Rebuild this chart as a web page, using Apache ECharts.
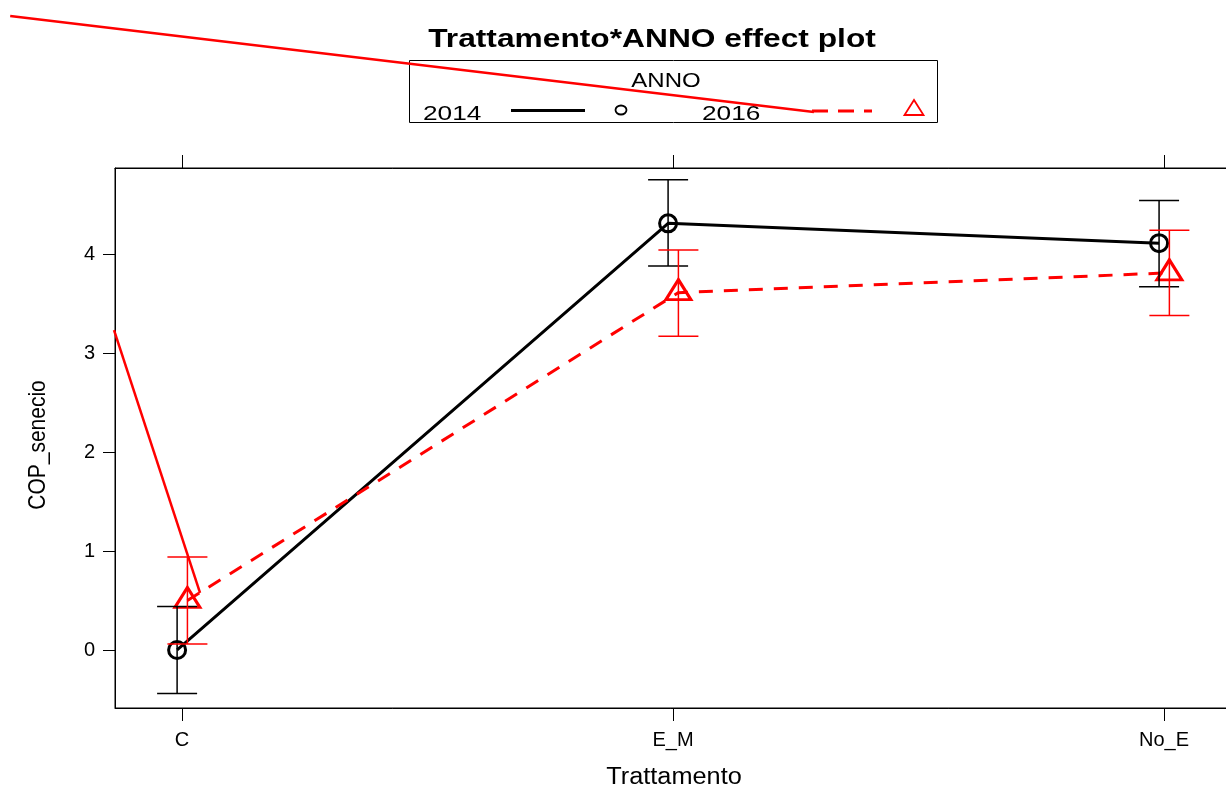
<!DOCTYPE html>
<html>
<head>
<meta charset="utf-8">
<script src="https://cdn.jsdelivr.net/npm/echarts@6/dist/echarts.min.js"></script>
<style>
html,body{margin:0;padding:0;background:#fff;}
#chart{width:1226px;height:787px;}
</style>
</head>
<body>
<div id="chart"></div>
<script>
// ---- data ----
const categories = ['C', 'E_M', 'No_E'];
const yTicks = [0, 1, 2, 3, 4];
const fit2014 = [0.00, 4.31, 4.11];
const lower2014 = [-0.44, 3.88, 3.67];
const upper2014 = [0.44, 4.75, 4.54];
const fit2016 = [0.50, 3.61, 3.81];
const lower2016 = [0.06, 3.17, 3.38];
const upper2016 = [0.94, 4.04, 4.24];
// stray red line that appears in the reference image (data coordinates)
const strayTop = [[-0.350, 6.404], [1.287, 5.434]];
const strayLow = [[-0.1385, 3.232], [0.0367, 0.576]];

const off2014 = -0.010, off2016 = 0.011;
const FONT = '"Liberation Sans", Arial, sans-serif';

function pts(fit, off) { return fit.map((v, i) => [i + off, v]); }
function bars(lo, hi, off) { return lo.map((v, i) => [i + off, v, hi[i]]); }

function errRender(color, width) {
  return function (params, api) {
    const x = api.value(0);
    const a = api.coord([x, api.value(1)]);
    const b = api.coord([x, api.value(2)]);
    const hw = 20;
    const st = { stroke: color, lineWidth: width };
    return {
      type: 'group',
      children: [
        { type: 'line', shape: { x1: a[0], y1: a[1], x2: b[0], y2: b[1] }, style: st },
        { type: 'line', shape: { x1: a[0] - hw, y1: a[1], x2: a[0] + hw, y2: a[1] }, style: st },
        { type: 'line', shape: { x1: b[0] - hw, y1: b[1], x2: b[0] + hw, y2: b[1] }, style: st }
      ]
    };
  };
}

function strayRender(segment) {
  return function (params, api) {
    if (params.dataIndex !== 0) return null;
    const p = segment.map(d => api.coord(d));
    return { type: 'polyline', shape: { points: p }, style: { stroke: '#ff0000', lineWidth: 2.5, fill: 'none' } };
  };
}

const xMin = -0.1365, xMax = 2.1365;
const yMin = -0.586, yMax = 4.869;

const chart = echarts.init(document.getElementById('chart'), null, { renderer: 'canvas' });
const axisLineStyle = { show: true, onZero: false, lineStyle: { color: '#000', width: 1 } };
const option = {
  animation: false,
  backgroundColor: '#fff',
  grid: { left: 115, top: 168, width: 1116, height: 540, show: true, borderColor: '#000', borderWidth: 1, containLabel: false, outerBoundsMode: 'none' },
  xAxis: [
    {
      type: 'value', min: xMin, max: xMax, position: 'bottom',
      axisLine: axisLineStyle,
      axisTick: { show: true, length: 13, customValues: [0, 1, 2], lineStyle: { color: '#000', width: 1 } },
      axisLabel: { show: true, customValues: [0, 1, 2], formatter: v => categories[Math.round(v)], color: '#000', fontSize: 20, fontFamily: FONT, margin: 22 },
      splitLine: { show: false }
    },
    {
      type: 'value', min: xMin, max: xMax, position: 'top',
      axisLine: axisLineStyle,
      axisTick: { show: true, length: 13, customValues: [0, 1, 2], lineStyle: { color: '#000', width: 1 } },
      axisLabel: { show: false },
      splitLine: { show: false }
    }
  ],
  yAxis: {
    type: 'value', min: yMin, max: yMax, position: 'left',
    axisLine: axisLineStyle,
    axisTick: { show: true, length: 12, customValues: yTicks, lineStyle: { color: '#000', width: 1 } },
    axisLabel: { show: true, customValues: yTicks, color: '#000', fontSize: 20, fontFamily: FONT, margin: 20 },
    splitLine: { show: false }
  },
  series: [
    {
      name: '2014', type: 'line', data: pts(fit2014, off2014), clip: false, z: 3,
      lineStyle: { color: '#000', width: 3 },
      symbol: 'circle', symbolSize: 17,
      itemStyle: { color: 'rgba(0,0,0,0)', borderColor: '#000', borderWidth: 3 }
    },
    {
      name: '2016', type: 'line', data: pts(fit2016, off2016), clip: false, z: 3,
      lineStyle: { color: '#ff0000', width: 3, type: [14, 11] },
      symbol: 'triangle', symbolSize: [25, 20], symbolOffset: [0, -3],
      itemStyle: { color: 'rgba(0,0,0,0)', borderColor: '#ff0000', borderWidth: 3 }
    },
    {
      type: 'custom', data: bars(lower2014, upper2014, off2014), encode: { x: 0, y: [1, 2] },
      renderItem: errRender('#000', 1.5), clip: false, z: 4
    },
    {
      type: 'custom', data: bars(lower2016, upper2016, off2016), encode: { x: 0, y: [1, 2] },
      renderItem: errRender('#ff0000', 1.5), clip: false, z: 4
    },
    {
      type: 'custom', data: strayTop, encode: { x: 0, y: 1 }, clip: false, z: 20, silent: true,
      renderItem: strayRender(strayTop)
    },
    {
      type: 'custom', data: strayLow, encode: { x: 0, y: 1 }, clip: false, z: 20, silent: true,
      renderItem: strayRender(strayLow)
    }
  ],
  graphic: [
    { type: 'text', x: 652, y: 40, scaleX: 1.22, z: 5,
      style: { text: 'Trattamento*ANNO effect plot', font: 'bold 26px ' + FONT, fill: '#000', textAlign: 'center', textVerticalAlign: 'middle' } },
    { type: 'text', x: 674, y: 778, scaleX: 1.1, z: 5,
      style: { text: 'Trattamento', font: '23px ' + FONT, fill: '#000', textAlign: 'center', textVerticalAlign: 'middle' } },
    { type: 'text', x: 38, y: 445, rotation: Math.PI / 2, scaleY: 1.15, z: 5,
      style: { text: 'COP_senecio', font: '21px ' + FONT, fill: '#000', textAlign: 'center', textVerticalAlign: 'middle' } },
    // legend box
    { type: 'rect', z: 5, shape: { x: 409.5, y: 60.5, width: 528, height: 62 }, style: { fill: '#fff', stroke: '#000', lineWidth: 1 } },
    { type: 'text', x: 666, y: 81, scaleX: 1.2, z: 6,
      style: { text: 'ANNO', font: '20px ' + FONT, fill: '#000', textAlign: 'center', textVerticalAlign: 'middle' } },
    { type: 'text', x: 423, y: 114, scaleX: 1.25, z: 6,
      style: { text: '2014', font: '21px ' + FONT, fill: '#000', textAlign: 'left', textVerticalAlign: 'middle' } },
    { type: 'line', z: 6, shape: { x1: 511, y1: 110.5, x2: 585, y2: 110.5 }, style: { stroke: '#000', lineWidth: 3 } },
    { type: 'ellipse', z: 6, shape: { cx: 621, cy: 110, rx: 5.5, ry: 4.5 }, style: { fill: 'none', stroke: '#000', lineWidth: 1.8 } },
    { type: 'text', x: 702, y: 114, scaleX: 1.25, z: 6,
      style: { text: '2016', font: '21px ' + FONT, fill: '#000', textAlign: 'left', textVerticalAlign: 'middle' } },
    { type: 'line', z: 6, shape: { x1: 812, y1: 111, x2: 872, y2: 111 }, style: { stroke: '#ff0000', lineWidth: 3, lineDash: [16, 10] } },
    { type: 'polygon', z: 6, shape: { points: [[914, 100], [904.5, 115], [923.5, 115]] }, style: { fill: 'none', stroke: '#ff0000', lineWidth: 1.8 } }
  ]
};
chart.setOption(option);
</script>
</body>
</html>
